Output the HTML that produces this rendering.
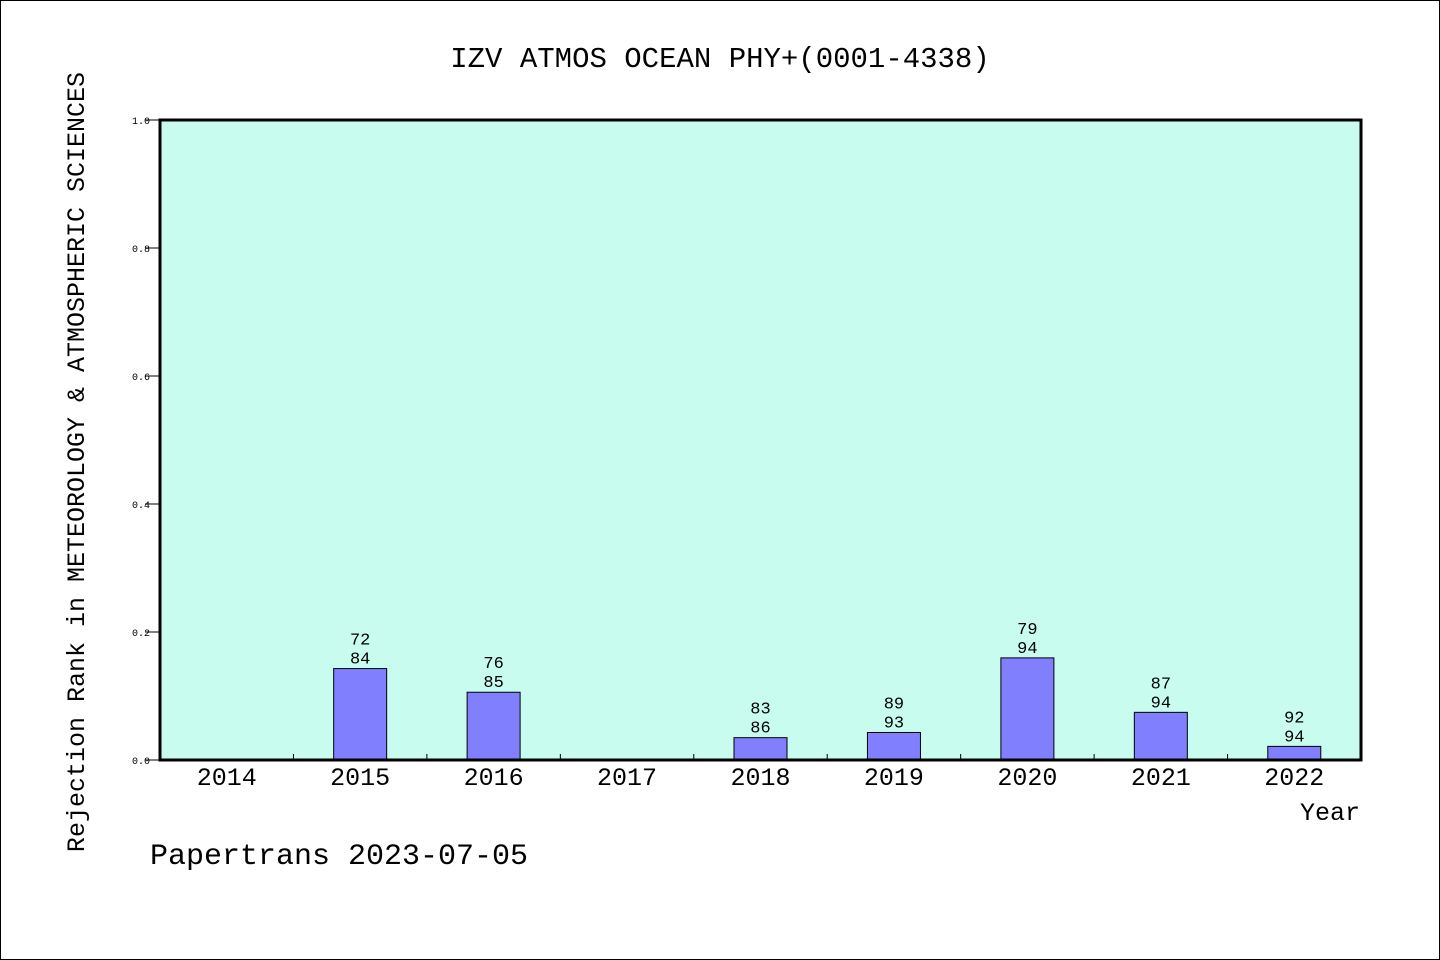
<!DOCTYPE html>
<html><head><meta charset="utf-8"><style>
body{margin:0;background:#fff}
svg{display:block;font-family:"Liberation Mono","Noto Sans CJK SC",monospace}
</style></head><body>
<svg width="1440" height="960" xmlns="http://www.w3.org/2000/svg">
<rect x="0.5" y="0.5" width="1439" height="959" fill="#fff" stroke="#000"/>
<text x="720" y="67" font-size="29" text-anchor="middle">IZV ATMOS OCEAN PHY+(0001-4338)</text>
<rect x="160" y="120" width="1201" height="640" fill="#c8fcee"/>
<g id="yaxis"></g>
<g id="xaxis"></g>
<g id="bars"></g>
<rect x="160" y="120" width="1201" height="640" fill="none" stroke="#000" stroke-width="3"/>
<text x="1360" y="820" font-size="25" text-anchor="end">Year</text>
<text transform="translate(84,462) rotate(-90)" font-size="25" text-anchor="middle">Rejection Rank in METEOROLOGY &amp; ATMOSPHERIC SCIENCES</text>
<text x="150" y="864" font-size="30">Papertrans 2023-07-05</text>
</svg>
<script>
const categories=["2014","2015","2016","2017","2018","2019","2020","2021","2022"];
const ranks=[null,72,76,null,83,89,79,87,92];
const totals=[null,84,85,null,86,93,94,94,94];
const yTicks=[0,0.2,0.4,0.6,0.8,1.0];
const NS="http://www.w3.org/2000/svg";
const X0=160,X1=1361,Y0=760,Y1=120;
const bw=(X1-X0)/categories.length;
const xc=i=>X0+bw*(i+0.5);
const y=v=>Y0-(Y0-Y1)*v;
function mk(tag,attrs,parent,txt){const e=document.createElementNS(NS,tag);for(const k in attrs)e.setAttribute(k,attrs[k]);if(txt!==undefined)e.textContent=txt;parent.appendChild(e);return e;}
const ya=document.getElementById('yaxis'),xa=document.getElementById('xaxis'),bg=document.getElementById('bars');
yTicks.forEach(t=>{
 const l=mk('line',{x1:X0-15,x2:X0,y1:y(t),y2:y(t),stroke:'#000'},ya);
 
 
 const tx=mk('text',{x:X0-10,y:y(t)+4,'font-size':10,'text-anchor':'end'},ya,t.toFixed(1));
 
 
});
categories.forEach((c,i)=>{
 if(i>0){const l=mk('line',{x1:X0+bw*i,x2:X0+bw*i,y1:Y0,y2:Y0-6,stroke:'#000'},xa);
 
 }
 const tx=mk('text',{x:xc(i),y:Y0+25,'font-size':25,'text-anchor':'middle'},xa,c);
 
 
 if(ranks[i]==null)return;
 const v=1-ranks[i]/totals[i];
 const r=mk('rect',{x:xc(i)-26.5,y:y(v),width:53,height:Y0-y(v),fill:'#8080ff',stroke:'#000'},bg);
 
 
 const a=mk('text',{x:xc(i),y:y(v)-24,'font-size':17,'text-anchor':'middle'},bg,String(ranks[i]));
 
 
 const b=mk('text',{x:xc(i),y:y(v)-5,'font-size':17,'text-anchor':'middle'},bg,String(totals[i]));
 
 
});
</script>
</body></html>
